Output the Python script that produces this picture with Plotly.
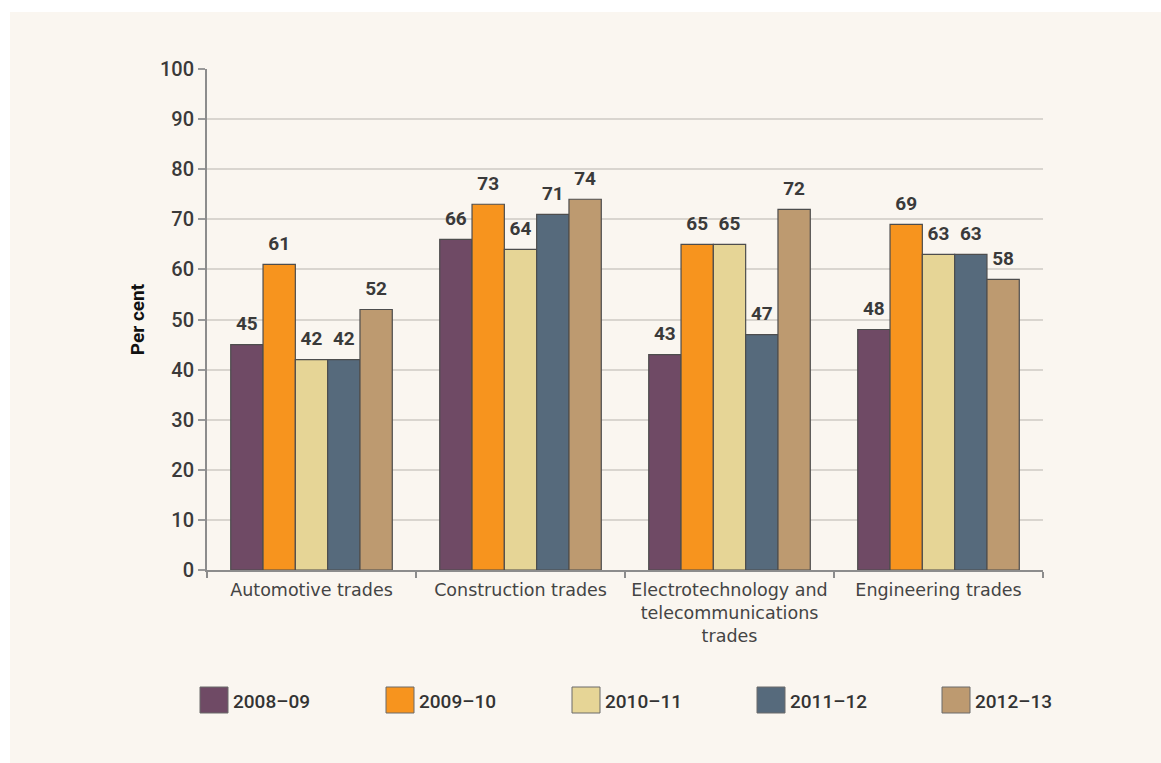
import plotly.graph_objects as go

categories = ["Automotive trades", "Construction trades",
              "Electrotechnology and<br>telecommunications<br>trades", "Engineering trades"]
series_names = ["2008–09", "2009–10", "2010–11", "2011–12", "2012–13"]
v_2008_09 = [45, 66, 43, 48]
v_2009_10 = [61, 73, 65, 69]
v_2010_11 = [42, 64, 65, 63]
v_2011_12 = [42, 71, 47, 63]
v_2012_13 = [52, 74, 72, 58]
y_ticks = [0, 10, 20, 30, 40, 50, 60, 70, 80, 90, 100]

series_values = [v_2008_09, v_2009_10, v_2010_11, v_2011_12, v_2012_13]
colors = ["#6f4a65", "#f7941e", "#e6d596", "#566a7c", "#bd9a70"]

CREAM = "#faf6f0"
NARROW = "Roboto, Liberation Sans Narrow, Arial Narrow, sans-serif"

fig = go.Figure()
for name, vals, col in zip(series_names, series_values, colors):
    fig.add_trace(go.Bar(
        x=categories, y=vals, name=name, marker_color=col,
        marker_line_color="#4d4d4d", marker_line_width=1.2,
        showlegend=False, hoverinfo="skip", offsetgroup=name,
    ))
for name, vals in zip(series_names, series_values):
    fig.add_trace(go.Scatter(
        x=categories, y=vals, mode="markers+text", text=[str(v) for v in vals],
        textposition="top center", marker=dict(size=14, opacity=0),
        textfont=dict(family=NARROW, size=19, color="#3a3a3a", weight="bold"),
        showlegend=False, hoverinfo="skip", offsetgroup=name,
    ))

# plot area in pixels
L, R, T, B = 207, 1043, 69, 570
W, H = 1161, 763
pw, ph = R - L, B - T

def px(x):
    return (x - L) / pw

def py(y):
    return (B - y) / ph

shapes = [dict(type="rect", xref="paper", yref="paper",
               x0=px(10), x1=px(1161), y0=py(763), y1=py(12),
               fillcolor=CREAM, line_width=0, layer="below")]
annotations = []
legend_x = [200, 386, 572, 757, 942]
for name, col, lx in zip(series_names, colors, legend_x):
    shapes.append(dict(type="rect", xref="paper", yref="paper",
                       x0=px(lx), x1=px(lx + 28), y0=py(713), y1=py(687),
                       fillcolor=col, line=dict(color="#6a6a6a", width=1)))
    annotations.append(dict(xref="paper", yref="paper", x=px(lx + 31), y=py(701),
                            text=name, showarrow=False, xanchor="left", yanchor="middle",
                            font=dict(family=NARROW, size=19, color="#333333", weight=500)))

fig.update_layout(
    width=W, height=H,
    margin=dict(l=L, r=W - R, t=T, b=H - B, pad=0),
    paper_bgcolor="white", plot_bgcolor=CREAM,
    barmode="group", bargap=0.227, bargroupgap=0,
    scattermode="group",
    shapes=shapes, annotations=annotations,
    showlegend=False,
    font=dict(family="Liberation Sans, Arial, sans-serif"),
)
fig.update_xaxes(
    type="category", showline=True, linecolor="#8c8c8c", linewidth=2,
    ticks="outside", tickson="boundaries", ticklen=6, tickcolor="#8c8c8c", tickwidth=1.5,
    ticklabelstandoff=3,
    showgrid=False, tickfont=dict(family="DejaVu Sans, sans-serif", size=17.5, color="#444444"),
)
fig.update_yaxes(
    range=[0, 100], tickvals=y_ticks, showline=True, linecolor="#8c8c8c", linewidth=2,
    ticks="outside", ticklen=7, tickcolor="#9a9a9a", tickwidth=1.5,
    showgrid=True, gridcolor="#d9d5cf", gridwidth=1.5, zeroline=False,
    tickfont=dict(family="Roboto, sans-serif", size=20, color="#3a3a3a", weight=500),
    title=dict(text="<b>Per cent</b>", font=dict(family="Roboto, sans-serif", size=19, color="#111111"), standoff=10),
)

fig.write_html("out.html")
